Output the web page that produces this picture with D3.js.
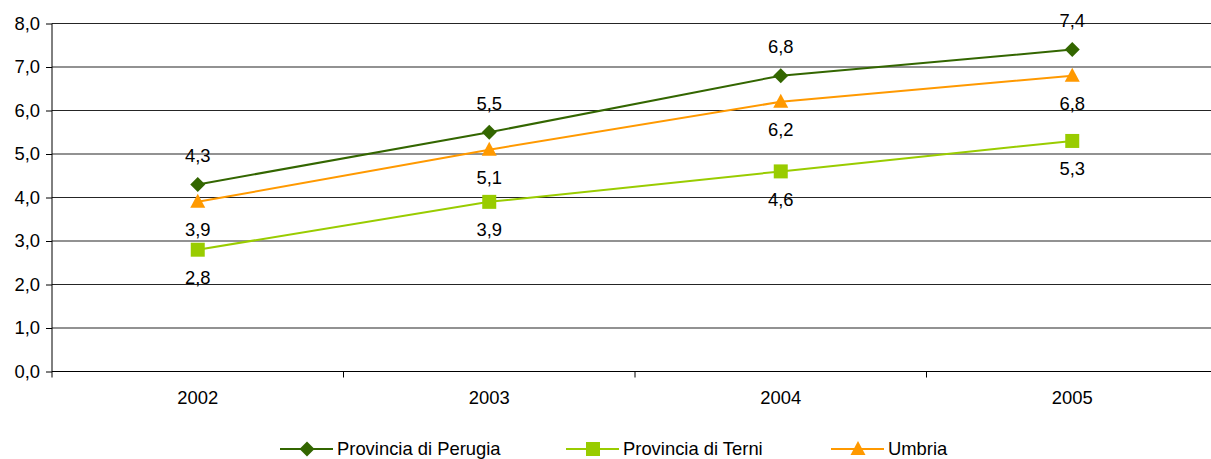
<!DOCTYPE html>
<html><head><meta charset="utf-8">
<script src="https://cdn.jsdelivr.net/npm/d3@7"></script>
<style>
body{margin:0;background:#fff;}
svg text{font-family:"Liberation Sans",Arial,sans-serif;font-size:18.4px;fill:#000;}
</style></head>
<body><svg id="c" width="1211" height="459"></svg>
<script>
const years = ["2002","2003","2004","2005"];
const perugia = [4.3,5.5,6.8,7.4];
const terni = [2.8,3.9,4.6,5.3];
const umbria = [3.9,5.1,6.2,6.8];
const yTicks = [0,1,2,3,4,5,6,7,8];
const seriesNames = ["Provincia di Perugia","Provincia di Terni","Umbria"];

const series = [
  {name:seriesNames[0], values:perugia, color:"#336600", shape:"diamond", labelPos:-1},
  {name:seriesNames[1], values:terni, color:"#99CC00", shape:"square", labelPos:1},
  {name:seriesNames[2], values:umbria, color:"#FF9900", shape:"triangle", labelPos:1}
];

const svg = d3.select("#c");
const pLeft = 52, pRight = 1218, pTop = 23.5, pBottom = 371.5;
const x = d3.scaleBand().domain(years).range([pLeft,pRight]);
const y = d3.scaleLinear().domain([0,8]).range([pBottom,pTop]);
const fmt = v => d3.format(".1f")(v).replace(".",",");

// gridlines
svg.append("g").selectAll("line").data(yTicks.filter(d=>d>0)).join("line")
  .attr("x1",pLeft).attr("x2",1211).attr("y1",d=>y(d)).attr("y2",d=>y(d))
  .attr("stroke","#000").attr("stroke-width",1).attr("opacity",0.85);

// y axis
const ya = svg.append("g").attr("transform",`translate(${pLeft},0)`)
  .call(d3.axisLeft(y).tickValues(yTicks).tickFormat(fmt).tickSize(6).tickPadding(6));
ya.select(".domain").attr("d",`M0,${pTop}V${pBottom+6}`).attr("stroke","#000");
ya.attr("font-family",null).attr("font-size",null);
ya.selectAll("text").attr("fill","#000");

// x axis
const xa = svg.append("g").attr("transform",`translate(0,${pBottom})`);
xa.append("line").attr("x1",pLeft).attr("x2",1211).attr("stroke","#000");
xa.selectAll("line.tk").data(years.slice(1)).join("line").attr("class","tk")
  .attr("x1",d=>x(d)).attr("x2",d=>x(d)).attr("y1",0).attr("y2",6).attr("stroke","#000");
xa.selectAll("text").data(years).join("text")
  .attr("x",d=>x(d)+x.bandwidth()/2).attr("y",32).attr("text-anchor","middle").text(d=>d);

const cx = d => x(d)+x.bandwidth()/2;
function shapePath(shape){
  if(shape==="diamond") return "M0,-7.5L7.5,0L0,7.5L-7.5,0Z";
  if(shape==="square") return "M-7,-7H7V7H-7Z";
  return "M0,-8L7.5,6H-7.5Z";
}

const line = d3.line().x((d,i)=>cx(years[i])).y(d=>y(d));
series.forEach(s=>{
  const g = svg.append("g");
  g.append("path").attr("d",line(s.values)).attr("fill","none").attr("stroke",s.color).attr("stroke-width",2);
  g.selectAll("path.m").data(s.values).join("path").attr("class","m")
    .attr("transform",(d,i)=>`translate(${cx(years[i])},${y(d)})`)
    .attr("d",shapePath(s.shape)).attr("fill",s.color);
});
series.forEach(s=>{
  svg.append("g").selectAll("text").data(s.values).join("text")
    .attr("x",(d,i)=>cx(years[i])).attr("y",d=>y(d)+s.labelPos*(s.labelPos<0?29:28))
    .attr("dy","0.35em").attr("text-anchor","middle").text(fmt);
});

// legend
const legX = [280,566,831];
series.forEach((s,i)=>{
  const g = svg.append("g").attr("transform",`translate(${legX[i]},449)`);
  g.append("line").attr("x1",0).attr("x2",53).attr("stroke",s.color).attr("stroke-width",2);
  g.append("path").attr("transform","translate(27,0)").attr("d",shapePath(s.shape)).attr("fill",s.color);
  g.append("text").attr("x",57).attr("dy","0.35em").text(s.name);
});
</script></body></html>
